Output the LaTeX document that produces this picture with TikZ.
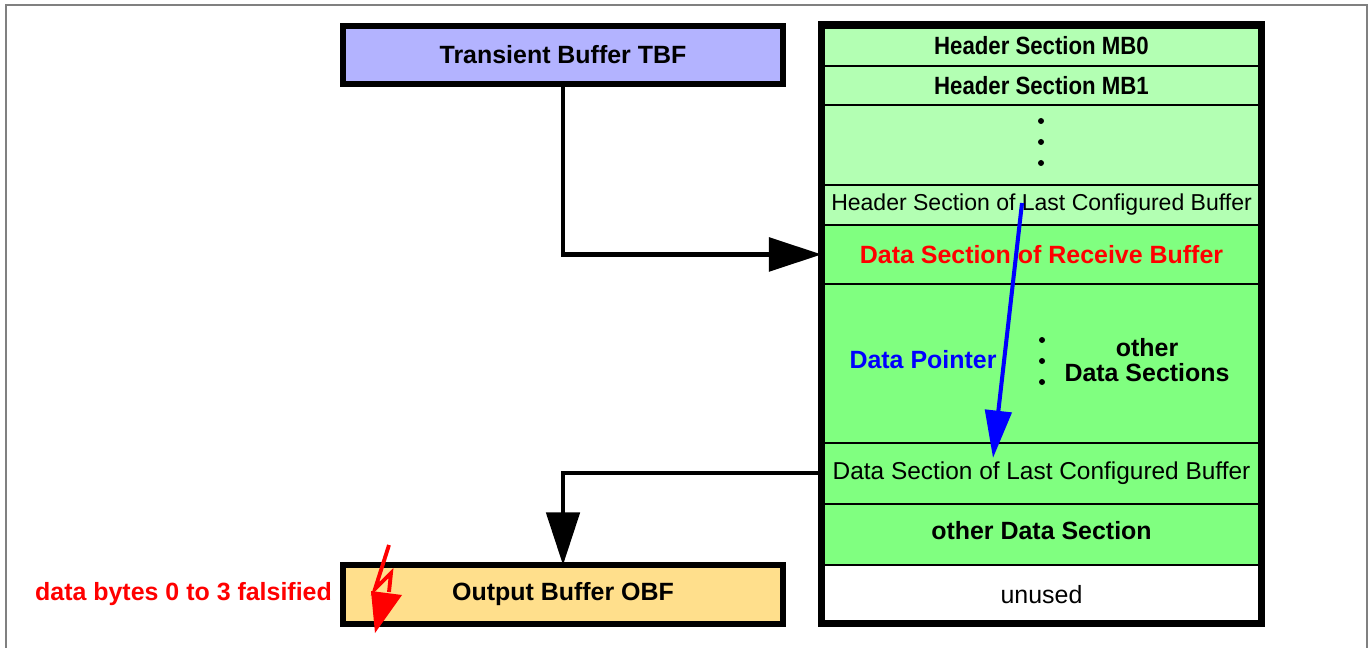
\documentclass[tikz,border=0pt]{standalone}
\usepackage{fontspec}
\setmainfont{Liberation Sans}
\newfontfamily\narrowsf[FakeStretch=0.89]{Liberation Sans}
\usetikzlibrary{positioning,arrows.meta}
\definecolor{tbfblue}{HTML}{B3B3FF}
\definecolor{hdrgreen}{HTML}{B3FFB3}
\definecolor{datgreen}{HTML}{80FF80}
\definecolor{obforange}{HTML}{FFDF8C}
\definecolor{framegray}{HTML}{808080}

\begin{document}
\begin{tikzpicture}[x=0.02cm, y=-0.02cm,
  bufbox/.style={draw, line width=3.4pt, minimum width=8.8cm, minimum height=1.18cm, inner sep=0pt, outer sep=0pt, font=\fontsize{14.2}{17}\selectfont\bfseries},
  row/.style={draw, line width=1.4pt, minimum width=8.8cm, inner sep=0pt, outer sep=0pt, font=\fontsize{14.2}{17}\selectfont\bfseries},
  hdr/.style={row, fill=hdrgreen},
  dat/.style={row, fill=datgreen},
  plain/.style={font=\fontsize{#1}{17}\selectfont},
  flow/.style={line width=2.8pt, -{Triangle[length=30pt,width=19pt]}},
  vdot/.style={fill, circle, inner sep=0pt, minimum size=0.12cm},
  lbl/.style={inner sep=0pt, font=\fontsize{14.2}{17}\selectfont\bfseries}]
\useasboundingbox (0,0) rectangle (1371,648);
\draw[framegray, line width=1.2pt] (6,648) -- (6,5) -- (1367,5) -- (1367,648);

\node[bufbox, fill=tbfblue, minimum height=1.16cm] (tbf) at (563,55) {Transient Buffer TBF};
\node[bufbox, fill=obforange] (obf) at (563,594.5) {Output Buffer OBF};

\node[hdr, minimum height=0.82cm, font=\narrowsf\fontsize{14.2}{17}\selectfont\bfseries] (mb0) at (1041.5,45.5) {Header Section MB0};
\node[hdr, minimum height=0.78cm, below=0pt of mb0, font=\narrowsf\fontsize{14.2}{17}\selectfont\bfseries] (mb1) {Header Section MB1};
\node[hdr, minimum height=1.6cm, below=0pt of mb1] (hdots) {};
\node[hdr, minimum height=0.8cm, below=0pt of hdots, plain=13.1] (hlast) {Header Section of Last Configured Buffer};
\node[dat, minimum height=1.18cm, below=0pt of hlast, text=red] (drecv) {Data Section of Receive Buffer};
\node[dat, minimum height=3.18cm, below=0pt of drecv] (dother) {};
\node[dat, minimum height=1.22cm, below=0pt of dother, plain=13.9] (dlast) {Data Section of Last Configured Buffer};
\node[dat, minimum height=1.22cm, below=0pt of dlast, text depth=4pt] (dsec) {other Data Section};
\node[row, fill=white, minimum height=1.17cm, below=0pt of dsec, plain=14.2] (unused) {unused};

\foreach \y in {121,142,163} \node[vdot] (hd\y) at (1041,\y) {};
\foreach \y in {340,361,382} \node[vdot] (dd\y) at (1042,\y) {};

\node[lbl, text=blue] (ptrlbl) at (923,360) {Data Pointer};
\node[lbl, align=center, font=\fontsize{14.2}{14.2}\selectfont\bfseries] (othlbl) at (1147,360) {other\\Data Sections};
\node[lbl, text=red] (falslbl) at (183.5,594) {data bytes 0 to 3 falsified};

\draw[flow] (tbf.south) |- (drecv.west);
\draw[flow, line width=2.2pt] (dlast.west) -| (obf.north);
\draw[line width=4pt] (mb0.north west) rectangle (unused.south east);

\coordinate (ptrtop) at (1022,203);
\coordinate (ptrtip) at (993,458);
\draw[line width=2.3pt, blue, -{Triangle[length=27pt,width=15pt]}] (ptrtop) -- (ptrtip);

\draw[red, line width=2.2pt, line join=miter] (389,545) -- (375,589) -- (391,573) -- (389,592);
\fill[red] (371,591) -- (402,595) -- (375,633) -- cycle;
\end{tikzpicture}
\end{document}
